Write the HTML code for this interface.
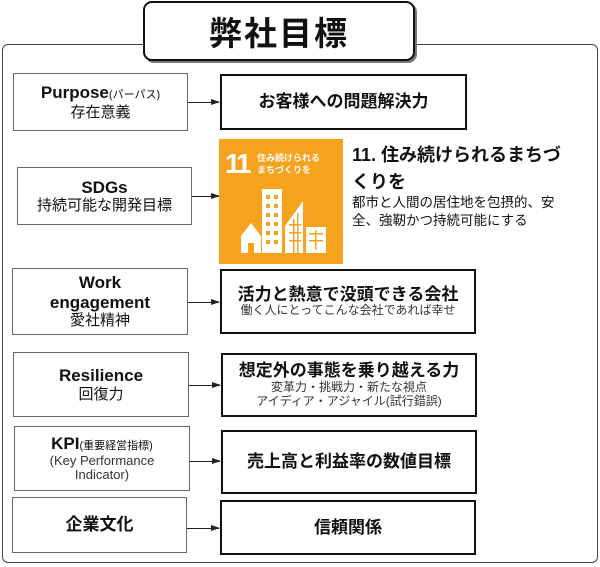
<!DOCTYPE html>
<html><head><meta charset="utf-8"><style>
body{margin:0;width:600px;height:567px;background:#fff;position:relative;overflow:hidden;font-family:"Liberation Sans","Noto Sans CJK JP",sans-serif;color:#111}
.a{position:absolute;box-sizing:border-box}
.l{border:1.5px solid #666;background:#fff;display:flex;flex-direction:column;align-items:center;justify-content:center;text-align:center;line-height:1.15}
.r{border:2px solid #111;background:#fff;display:flex;flex-direction:column;align-items:center;justify-content:center;text-align:center;line-height:1.15}
.en{font-weight:bold;font-size:17px}
.jp{font-size:15px}
.rt{font-weight:bold;font-size:17px}
.sm{font-size:12px;color:#333}
.ar{position:absolute;height:1px;background:#222}
.ar:after{content:"";position:absolute;right:-1px;top:-3px;border-left:9px solid #222;border-top:3.5px solid transparent;border-bottom:3.5px solid transparent}
</style></head><body>
<div class="a" style="left:2px;top:44px;width:596px;height:519px;border:1.5px solid #444;border-radius:6px"></div>
<div class="a" style="left:143px;top:1px;width:272px;height:60px;border:2px solid #111;border-radius:9px;background:#fff;box-shadow:2px 2px 0 #777;display:flex;align-items:center;justify-content:center;font-size:33px;font-weight:bold;letter-spacing:2px">弊社目標</div>

<div class="a l" style="left:13px;top:73px;width:175px;height:58px"><div><span class="en">Purpose</span><span style="font-size:11px">(パーパス)</span></div><div class="jp">存在意義</div></div>
<div class="ar" style="left:188px;top:102px;width:31px"></div>
<div class="a r" style="left:220px;top:74px;width:247px;height:56px"><div class="rt">お客様への問題解決力</div></div>

<div class="a l" style="left:17px;top:167px;width:175px;height:58px"><div class="en">SDGs</div><div class="jp">持続可能な開発目標</div></div>
<div class="ar" style="left:192px;top:196px;width:27px"></div>
<div class="a" style="left:219px;top:139px;width:124px;height:125px;background:#f5a21e">
<svg width="124" height="125" viewBox="0 0 124 125">
<text x="6" y="34" font-family="Liberation Sans" font-weight="bold" font-size="28" fill="#fff" letter-spacing="-3">11</text>
<text x="38" y="22" font-family="Noto Sans CJK JP" font-weight="bold" font-size="9" fill="#fff">住み続けられる</text>
<text x="38" y="34" font-family="Noto Sans CJK JP" font-weight="bold" font-size="9" fill="#fff">まちづくりを</text>
<g fill="#fff"><polygon points="22,97 32,84 42,97 42,114 22,114"/><rect x="43" y="50" width="20" height="64"/><polygon points="66,114 66,87 84,62 84,114"/><rect x="87" y="88" width="20" height="26"/></g>
<g fill="#f5a21e"><rect x="29" y="104" width="6" height="10"/>
<rect x="47" y="56" width="4" height="4"/><rect x="55" y="56" width="4" height="4"/><rect x="47" y="65" width="4" height="4"/><rect x="55" y="65" width="4" height="4"/><rect x="47" y="74" width="4" height="4"/><rect x="55" y="74" width="4" height="4"/><rect x="47" y="83" width="4" height="4"/><rect x="55" y="83" width="4" height="4"/><rect x="47" y="92" width="4" height="4"/><rect x="55" y="92" width="4" height="4"/><rect x="47" y="101" width="4" height="4"/><rect x="55" y="101" width="4" height="4"/>
<rect x="70" y="85" width="12" height="1.5"/><rect x="70" y="93" width="12" height="1.5"/><rect x="70" y="101" width="12" height="1.5"/><rect x="74" y="80" width="1.5" height="34"/><rect x="78" y="74" width="1.5" height="40"/>
<rect x="90" y="94" width="14" height="1.5"/><rect x="90" y="101" width="14" height="1.5"/><rect x="96" y="91" width="1.5" height="20"/></g>
</svg></div>
<div class="a" style="left:352px;top:142px;width:240px;font-size:18px;font-weight:bold;line-height:27px">11. 住み続けられるまちづ<br>くりを</div>
<div class="a" style="left:352px;top:194px;width:240px;font-size:13.5px;line-height:18px">都市と人間の居住地を包摂的、安<br>全、強靭かつ持続可能にする</div>

<div class="a l" style="left:12px;top:268px;width:176px;height:67px"><div class="en">Work</div><div class="en">engagement</div><div class="jp">愛社精神</div></div>
<div class="ar" style="left:188px;top:302px;width:31px"></div>
<div class="a r" style="left:220px;top:269px;width:256px;height:65px"><div class="rt">活力と熱意で没頭できる会社</div><div class="sm">働く人にとってこんな会社であれば幸せ</div></div>

<div class="a l" style="left:13px;top:352px;width:176px;height:65px"><div class="en">Resilience</div><div class="jp">回復力</div></div>
<div class="ar" style="left:189px;top:385px;width:31px"></div>
<div class="a r" style="left:221px;top:353px;width:256px;height:64px"><div class="rt">想定外の事態を乗り越える力</div><div class="sm">変革力・挑戦力・新たな視点</div><div class="sm">アイディア・アジャイル(試行錯誤)</div></div>

<div class="a l" style="left:14px;top:426px;width:176px;height:65px;line-height:1.05"><div><span class="en">KPI</span><span style="font-size:11px">(重要経営指標)</span></div><div style="font-size:13px;color:#333">(Key Performance</div><div style="font-size:13px;color:#333">Indicator)</div></div>
<div class="ar" style="left:190px;top:461px;width:30px"></div>
<div class="a r" style="left:221px;top:430px;width:256px;height:64px"><div class="rt">売上高と利益率の数値目標</div></div>

<div class="a l" style="left:12px;top:497px;width:175px;height:56px"><div class="rt">企業文化</div></div>
<div class="ar" style="left:187px;top:528px;width:32px"></div>
<div class="a r" style="left:220px;top:500px;width:256px;height:55px"><div class="rt">信頼関係</div></div>
</body></html>
